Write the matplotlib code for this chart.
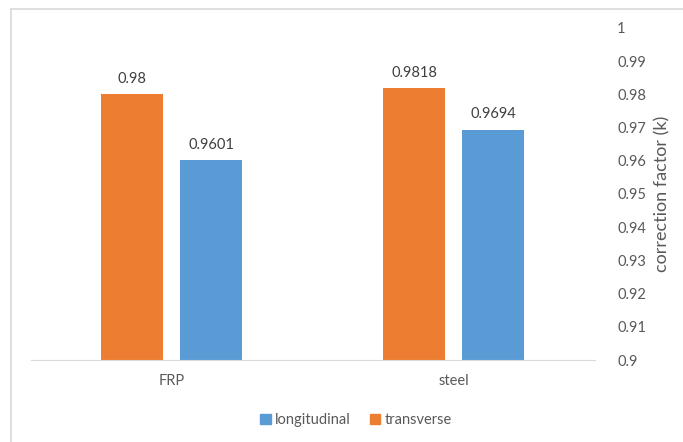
import matplotlib
matplotlib.use("Agg")
import matplotlib.pyplot as plt
from matplotlib.lines import Line2D
from matplotlib.patches import Patch
import numpy as np

categories = ["FRP", "steel"]
transverse = [0.98, 0.9818]
longitudinal = [0.9601, 0.9694]
trans_labels = ["0.98", "0.9818"]
long_labels = ["0.9601", "0.9694"]
yticks = [0.9, 0.91, 0.92, 0.93, 0.94, 0.95, 0.96, 0.97, 0.98, 0.99, 1.0]
ytick_labels = ["0.9", "0.91", "0.92", "0.93", "0.94", "0.95", "0.96", "0.97", "0.98", "0.99", "1"]

plt.rcParams['font.family'] = ['Lato', 'DejaVu Sans']

ORANGE = "#ED7D31"
BLUE = "#5B9BD5"
TXT = "#595959"

fig = plt.figure(figsize=(6.83, 4.42), dpi=100)
ax = fig.add_axes([0.045, 0.1855, 0.826, 0.7512])

x = np.arange(len(categories))
w = 0.22
off = 0.14
bt = ax.bar(x - off, [v - 0.9 for v in transverse], w, bottom=0.9, color=ORANGE)
bl = ax.bar(x + off, [v - 0.9 for v in longitudinal], w, bottom=0.9, color=BLUE)

for xi, v, s in zip(x - off, transverse, trans_labels):
    ax.annotate(s, (xi, v), xytext=(0, 6), textcoords="offset points",
                ha="center", va="bottom", fontsize=10.5, color="#404040")
for xi, v, s in zip(x + off, longitudinal, long_labels):
    ax.annotate(s, (xi, v), xytext=(0, 6), textcoords="offset points",
                ha="center", va="bottom", fontsize=10.5, color="#404040")

ax.set_xlim(-0.5, 1.5)
ax.set_ylim(0.9, 1.0)
ax.set_xticks(x)
ax.set_xticklabels(categories)
ax.set_yticks(yticks)
ax.set_yticklabels(ytick_labels)
ax.yaxis.tick_right()
ax.yaxis.set_label_position("right")
ax.tick_params(axis="y", length=0, pad=16, labelsize=10.5, colors=TXT)
ax.tick_params(axis="x", length=0, pad=10, labelsize=10.5, colors=TXT)
ax.set_ylabel("correction factor (k)", fontsize=13, color=TXT, labelpad=6)

for s in ["top", "left", "right"]:
    ax.spines[s].set_visible(False)
ax.spines["bottom"].set_color("#D9D9D9")

handles = [Patch(color=BLUE), Patch(color=ORANGE)]
fig.legend(handles, ["longitudinal", "transverse"], loc="center",
           bbox_to_anchor=(356 / 683, 1 - 420 / 442), ncol=2, frameon=False,
           fontsize=10.5, labelcolor=TXT, handlelength=0.7, handleheight=0.7,
           handletextpad=0.3, columnspacing=1.3)

fig.add_artist(Line2D([11 / 683, 11 / 683], [0, 1 - 9 / 442], color="#D9D9D9", lw=1.2))
fig.add_artist(Line2D([11 / 683, 1], [1 - 9 / 442, 1 - 9 / 442], color="#D9D9D9", lw=1.2))

fig.savefig("out.png", dpi=100)
